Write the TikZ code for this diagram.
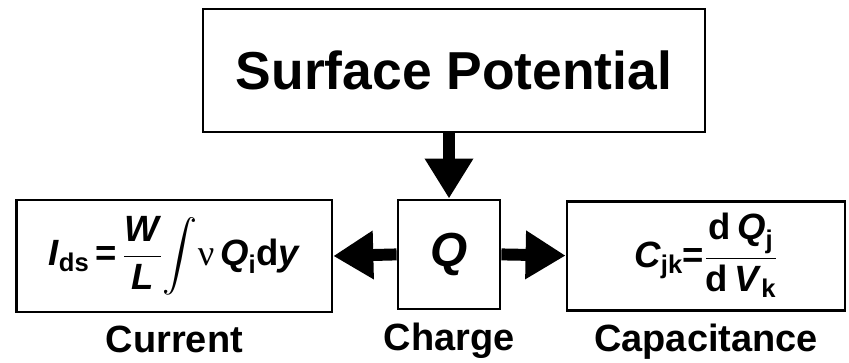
\documentclass[tikz,border=0pt]{standalone}
\usepackage{amsmath}
\usepackage{fontspec}
\setmainfont{Liberation Sans}
\newfontfamily\grk{Liberation Serif}
\usetikzlibrary{arrows.meta,positioning,calc}
\newcommand{\bit}[1]{\textit{#1}}

\begin{document}
\begin{tikzpicture}[every node/.style={align=center,font=\bfseries},
    blk/.style={rectangle,draw=black,line width=2pt,inner sep=0pt},
    tag/.style={font=\fontsize{27}{30}\selectfont\bfseries},
    fat/.style={line width=8.5pt,-{Triangle[length=1cm,width=1.15cm]}}]
    \useasboundingbox (0,0) rectangle (21.225,-9.05);
    % boxes
    \node[blk,minimum width=12.55cm,minimum height=3.075cm] (sp) at (11.35,-1.76)
      {\fontsize{38}{40}\selectfont Surface Potential};
    \node[blk,minimum width=2.55cm,minimum height=2.725cm] (q) at (11.225,-6.36)
      {\fontsize{34}{36}\selectfont\bit{Q}};
    \node[blk,minimum width=7.875cm,minimum height=2.8cm] (cur) at (4.36,-6.4)
      {\fontsize{26}{28}\selectfont
       $\text{\bit{I}}_{\text{ds}}\,\text{=}\,\dfrac{\text{\bit{W}}}{\text{\bit{L}}}\!\displaystyle\int\!
        \text{\grk\mdseries ν}\,\text{\bit{Q}}_{\text{i}}\text{d\bit{y}}$};
    \node[blk,minimum width=6.95cm,minimum height=2.725cm] (capc) at (17.65,-6.39)
      {\fontsize{26}{28}\selectfont
       $\text{\bit{C}}_{\text{jk}}\text{=}\dfrac{\text{d\,\bit{Q}}_{\text{j}}}{\text{d\,\bit{V}}_{\text{k}}}$};
    % labels
    \node[tag,below=0.2cm of cur] (lcur) {Current};
    \node[tag,below=0.2cm of q] (lq) {Charge};
    \node[tag,below=0.2cm of capc] (lcap) {Capacitance};
    % arrows
    \draw[fat] (q.north |- sp.south) -- (q.north);
    \draw[fat] (q.west) -- (cur.east);
    \draw[fat] (q.east) -- (capc.west);
\end{tikzpicture}
\end{document}
